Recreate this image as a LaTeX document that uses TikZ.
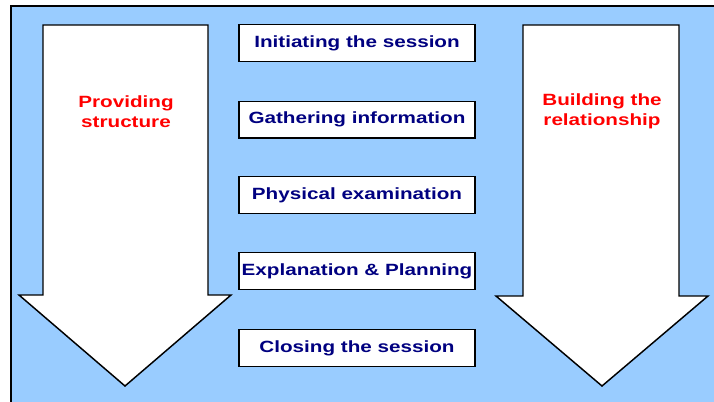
\documentclass[tikz,border=0pt]{standalone}
\usepackage{fontspec}
\setmainfont{Liberation Sans}[FakeStretch=1.27]
\definecolor{skyback}{HTML}{99CCFF}
\definecolor{stepnavy}{HTML}{000080}
\definecolor{sidered}{HTML}{FF0000}
\tikzset{
    stepbox/.style={draw, line width=1pt, fill=white, minimum width=177pt, minimum height=27.5pt,
        inner sep=0pt, text=stepnavy, font=\fontsize{12.2}{14}\selectfont\bfseries},
    sidetext/.style={text=sidered, align=center, font=\fontsize{12.2}{14.6}\selectfont\bfseries},
    bigarrow/.style={draw, line width=1.1pt, fill=white, line join=miter}
}
\begin{document}
\begin{tikzpicture}[x=0.75pt, y=-0.75pt]
        \useasboundingbox (0, 0) rectangle (714, 401);
        \draw[fill=skyback, line width=0.8pt] (11, 6) rectangle (730, 420);

        %%arrows
        \draw[bigarrow] (43, 25) -- (208, 25) -- (208, 295) -- (231, 295) -- (125, 386)
            -- (19, 295) -- (43, 295) -- cycle;
        \draw[bigarrow] (523, 25) -- (679, 25) -- (679, 296) -- (708, 296) -- (602, 386)
            -- (496, 296) -- (523, 296) -- cycle;

        %%nodes
        \node[sidetext] (structure) at(126, 111.5){Providing\\structure};
        \node[sidetext] (relation) at(602, 111.5){Building the\\relationship};

        \node[stepbox] (initiate) at(357, 43){Initiating the session};
        \node[stepbox] (gather) at(357, 119.5){Gathering information};
        \node[stepbox] (exam) at(357, 195){Physical examination};
        \node[stepbox] (explain) at(357, 271){Explanation \& Planning};
        \node[stepbox] (close) at(357, 348){Closing the session};
\end{tikzpicture}
\end{document}
